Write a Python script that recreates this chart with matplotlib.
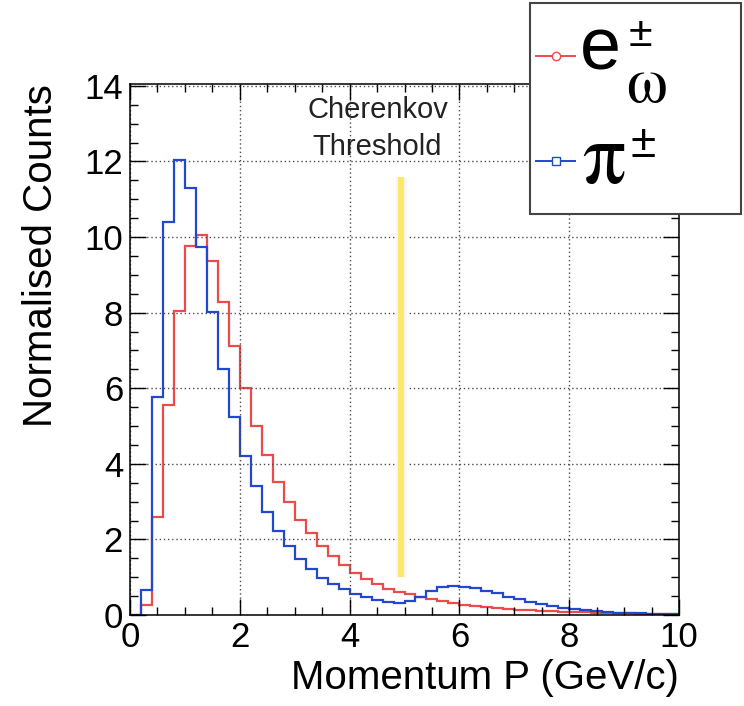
import numpy as np
import matplotlib
matplotlib.use('Agg')
import matplotlib.pyplot as plt
from matplotlib.lines import Line2D
from matplotlib.patches import Rectangle

plt.rcParams['font.family'] = ['Liberation Sans', 'DejaVu Sans']

# histogram bins: 50 bins from 0 to 10 GeV/c
edges = np.linspace(0, 10, 51)

# e± from omega (red)
counts_e = [0, 0.27, 2.6, 5.55, 8.05, 9.76, 10.05, 9.37, 8.27, 7.12,
            6.0, 5.0, 4.23, 3.51, 3.0, 2.51, 2.16, 1.83, 1.56, 1.32,
            1.12, 0.94, 0.81, 0.70, 0.62, 0.55, 0.48, 0.43, 0.37, 0.32,
            0.27, 0.24, 0.21, 0.18, 0.16, 0.14, 0.12, 0.11, 0.10, 0.09,
            0.08, 0.07, 0.06, 0.05, 0.04, 0.04, 0.03, 0.03, 0.02, 0.02]

# pi± (blue)
counts_pi = [0, 0.66, 5.78, 10.4, 12.03, 11.3, 9.73, 8.02, 6.5, 5.23,
             4.22, 3.42, 2.73, 2.23, 1.83, 1.47, 1.21, 0.97, 0.81, 0.68,
             0.56, 0.47, 0.40, 0.34, 0.31, 0.37, 0.48, 0.63, 0.73, 0.77,
             0.75, 0.71, 0.64, 0.57, 0.48, 0.42, 0.35, 0.29, 0.24, 0.19,
             0.15, 0.13, 0.11, 0.08, 0.06, 0.05, 0.04, 0.03, 0.03, 0.02]

threshold_p = 4.93
threshold_span = (1.0, 11.6)

red = '#ef4a4a'
blue = '#2247d0'

W, H = 744, 706
fig = plt.figure(figsize=(W / 100, H / 100), dpi=100)
ax = fig.add_axes([130 / W, 1 - 615 / H, 549 / W, 531 / H])

ax.stairs(counts_e, edges, color=red, lw=1.6)
ax.stairs(counts_pi, edges, color=blue, lw=1.6)

ax.vlines(threshold_p, *threshold_span, color='#f7f7f7', lw=8, zorder=2)
ax.vlines(threshold_p, *threshold_span, color='#fbe86c', lw=4.5, zorder=3)

ax.text(4.51, 13.14, 'Cherenkov', ha='center', va='baseline', fontsize=21, color='#222222')
ax.text(4.51, 12.17, 'Threshold', ha='center', va='baseline', fontsize=21, color='#222222')

ax.set_xlim(0, 10)
ax.set_ylim(0, 14.05)
ax.set_xticks(np.arange(0, 11, 2))
ax.set_yticks(np.arange(0, 15, 2))
ax.set_xticks(np.arange(0, 10.01, 0.5), minor=True)
ax.set_yticks(np.arange(0, 14.01, 0.5), minor=True)
ax.tick_params(which='both', direction='in', top=True, right=True, width=1)
ax.tick_params(which='major', length=11.5)
ax.tick_params(which='minor', length=5.8)
ax.tick_params(axis='x', labelsize=25, pad=4.5)
ax.tick_params(axis='y', labelsize=25, pad=5)
ax.grid(True, which='major', color='0.3', linestyle=(0, (1, 2)), lw=1)
for s in ax.spines.values():
    s.set_linewidth(1.1)

ax.set_xlabel('Momentum P (GeV/c)', fontsize=29, loc='right')
ax.xaxis.set_label_coords(1.0, -0.083)
ax.set_ylabel('Normalised Counts', fontsize=29, loc='top')
ax.yaxis.set_label_coords(-0.127, 1.0)

# legend box (partly outside the canvas, like the original)
def fx(px):
    return px / W

def fy(py):
    return 1 - py / H

fig.add_artist(Rectangle((fx(530), fy(214)), fx(741) - fx(530), fy(3) - fy(214),
                         transform=fig.transFigure, facecolor='white',
                         edgecolor='#444444', lw=1.5, zorder=5))
fig.add_artist(Line2D([fx(536), fx(575)], [fy(56), fy(56)], color=red, lw=1.4,
                      transform=fig.transFigure, zorder=6))
fig.add_artist(Line2D([fx(556)], [fy(56)], color=red, marker='o', ms=6, mfc='white',
                      mew=1, transform=fig.transFigure, zorder=7))
fig.add_artist(Line2D([fx(536), fx(575)], [fy(161), fy(161)], color=blue, lw=1.4,
                      transform=fig.transFigure, zorder=6))
fig.add_artist(Line2D([fx(556)], [fy(161)], color=blue, marker='s', ms=6, mfc='white',
                      mew=1, transform=fig.transFigure, zorder=7))

fig.text(fx(580), fy(70), 'e', fontsize=53, va='baseline', ha='left', zorder=8)
fig.text(fx(629), fy(46), '\u00b1', fontsize=31, va='baseline', ha='left', zorder=8)
fig.text(fx(626), fy(102), '\u03c9', fontsize=47, va='baseline', ha='left',
         family='STIXGeneral', zorder=8)
fig.text(fx(582), fy(183), '\u03c0', fontsize=62, va='baseline', ha='left',
         family='STIXGeneral', zorder=8)
fig.text(fx(631), fy(157), '\u00b1', fontsize=33, va='baseline', ha='left', zorder=8)

plt.savefig('out.png', dpi=100)
